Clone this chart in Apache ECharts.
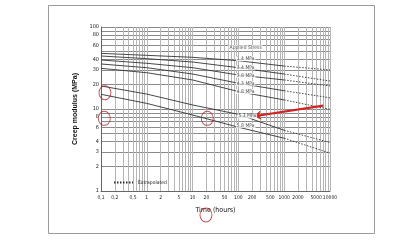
<!DOCTYPE html>
<html><head><meta charset="utf-8">
<script src="https://cdn.jsdelivr.net/npm/echarts@6/dist/echarts.min.js"></script>
<style>html,body{margin:0;padding:0;background:#fff}#c{width:420px;height:240px}</style>
</head><body><div id="c"></div>
<script>
const times = [0.1, 1, 10, 100, 1000, 10000];
const stress14 = [47.7, 45.1, 42.7, 38.8, 33.4, 29.9];
const stress34 = [44.3, 41.1, 37.4, 31.9, 26.7, 21.9];
const stress38 = [39.6, 36.1, 31.9, 26.0, 22.6, 19.1];
const stress43 = [35.4, 31.9, 26.7, 20.6, 16.7, 13.7];
const stress48 = [31.3, 27.7, 22.6, 16.3, 12.9, 9.9];
const stress53 = [19.1, 15.2, 11.2, 8.6, 5.5, 3.9];
const stress58 = [15.1, 11.7, 8.45, 6.0, 4.4, 2.9];
const stressNames = ['1.4 MPa', '3.4 MPa', '3.8 MPa', '4.3 MPa', '4.8 MPa', '5.3 MPa', '5.8 MPa'];
const stressValues = [stress14, stress34, stress38, stress43, stress48, stress53, stress58];
const curveLabelTimes = [144, 144, 144, 144, 144, 156, 144];
const curveLabelValues = [41.1, 31.9, 25.7, 20.6, 16.3, 8.2, 6.3];
const xTickLabels = [0.1, 0.2, 0.5, 1, 2, 5, 10, 20, 50, 100, 200, 500, 1000, 2000, 5000, 10000];
const yTickLabels = [1, 2, 3, 4, 6, 8, 10, 20, 30, 40, 60, 80, 100];
const xGridValues = [];
[0.1, 1, 10, 100, 1000].forEach(d => { for (let k = 1; k <= 9; k++) xGridValues.push(+(d * k).toPrecision(3)); });
xGridValues.push(10000);
const yGridValues = [];
[1, 10].forEach(d => { for (let k = 1; k <= 9; k++) yGridValues.push(d * k); });
yGridValues.push(100);
const circleMarks = [[0.122, 15.8], [0.118, 7.7], [20.9, 7.7], [19.6, 0.51]];
const arrowFrom = [7145, 11.0];
const arrowTo = [219, 8.15];

const FONT = "'Liberation Sans Narrow','DejaVu Sans Condensed',sans-serif";
const lineColor = '#333';
const solidEnd = 1000;

const series = [];
stressValues.forEach((vals, i) => {
  const solid = [], dashed = [];
  times.forEach((t, j) => {
    if (t <= solidEnd) solid.push([t, vals[j]]);
    if (t >= solidEnd) dashed.push([t, vals[j]]);
  });
  series.push({ type: 'line', name: stressNames[i], data: solid, symbol: 'none', silent: true,
    lineStyle: { color: lineColor, width: 0.9 }, z: 3 });
  series.push({ type: 'line', name: stressNames[i] + ' ext', data: dashed, symbol: 'none', silent: true,
    lineStyle: { color: lineColor, width: 0.9, type: [1.5, 1.5] }, z: 3 });
});
series.push({
  type: 'scatter', name: 'labels', symbolSize: 0, silent: true, z: 5,
  data: stressNames.map((n, i) => [curveLabelTimes[i], curveLabelValues[i], n]).concat([[144, 56, 'Applied Stress']]),
  label: { show: true, position: 'inside', formatter: p => p.data[2], fontFamily: FONT, fontSize: 5,
    color: '#222', backgroundColor: '#fff', padding: [0, 1] }
});
series.push({ type: 'line', name: 'Extrapolated', data: [], symbol: 'none',
  itemStyle: { color: lineColor },
  lineStyle: { color: lineColor, width: 0.9, type: [1.5, 1.5] } });
series.push({
  type: 'scatter', name: 'annot', silent: true, clip: false, z: 10,
  data: circleMarks, symbol: 'circle', symbolSize: [12, 14],
  itemStyle: { color: 'rgba(0,0,0,0)', borderColor: '#b3262b', borderWidth: 1 },
  markLine: { silent: true, symbol: ['none', 'arrow'], symbolSize: [7, 7],
    lineStyle: { color: '#d42222', width: 2.2, type: 'solid' }, label: { show: false },
    data: [[{ coord: arrowFrom }, { coord: arrowTo }]] }
});

const chart = echarts.init(document.getElementById('c'), null, { renderer: 'canvas' });
chart.setOption({
  animation: false,
  backgroundColor: '#fff',
  grid: { left: 101, right: 90, top: 27, bottom: 49 },
  legend: { data: [{ name: 'Extrapolated', itemStyle: { opacity: 0 } }], left: 108, top: 175,
    itemWidth: 19, itemHeight: 6, itemGap: 2,
    textStyle: { fontFamily: FONT, fontSize: 5, color: '#222' } },
  xAxis: {
    type: 'log', logBase: 10, min: 0.1, max: 10000,
    name: 'Time (hours)', nameLocation: 'middle', nameGap: 16,
    nameTextStyle: { fontFamily: FONT, fontSize: 7, color: '#111' },
    axisLine: { show: true, lineStyle: { color: '#666', width: 1 } },
    axisTick: { show: false, customValues: xGridValues },
    axisLabel: { customValues: xTickLabels, margin: 4, fontFamily: FONT, fontSize: 5, color: '#222',
      hideOverlap: false, showMaxLabel: true, showMinLabel: true,
      formatter: v => String(v).replace('.', ',') },
    splitLine: { show: true, lineStyle: { color: '#b5b5b5', width: 1 } }
  },
  yAxis: {
    type: 'log', logBase: 10, min: 1, max: 100,
    name: 'Creep modulus (MPa)', nameLocation: 'middle', nameGap: 8, nameRotate: 90,
    nameTextStyle: { fontFamily: "'Liberation Sans',sans-serif", fontSize: 7, fontWeight: 'bold', color: '#111' },
    axisLine: { show: true, lineStyle: { color: '#666', width: 1 } },
    axisTick: { show: false, customValues: yGridValues },
    axisLabel: { customValues: yTickLabels, margin: 2, fontFamily: FONT, fontSize: 5.5, color: '#222' },
    splitLine: { show: true, lineStyle: { color: '#8a8a8a', width: 1 } }
  },
  graphic: [{ type: 'rect', shape: { x: 48.5, y: 5.5, width: 326, height: 228 }, silent: true,
    style: { fill: 'none', stroke: '#9a9a9a', lineWidth: 1 } }],
  series: series
});
</script></body></html>
